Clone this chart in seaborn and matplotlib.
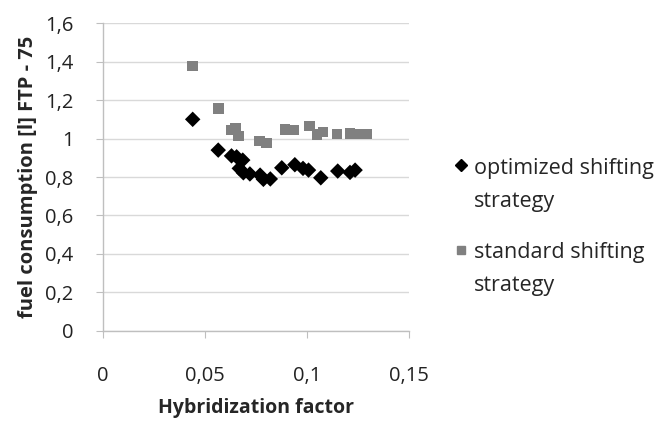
import pandas as pd
import matplotlib
matplotlib.use("Agg")
import matplotlib.pyplot as plt
import seaborn as sns
from matplotlib.ticker import FuncFormatter, MultipleLocator

# values
opt_x = [0.044, 0.0565, 0.063, 0.0655, 0.0685, 0.0668, 0.0688, 0.072, 0.077, 0.0786,
         0.082, 0.0876, 0.094, 0.098, 0.1007, 0.1067, 0.115, 0.121, 0.1235]
opt_y = [1.10, 0.94, 0.91, 0.905, 0.888, 0.845, 0.822, 0.816, 0.81, 0.788,
         0.79, 0.848, 0.864, 0.845, 0.836, 0.796, 0.831, 0.824, 0.836]

std_x = [0.044, 0.0565, 0.063, 0.065, 0.0665, 0.0766, 0.080, 0.0892, 0.0933, 0.1011,
         0.1048, 0.1077, 0.1146, 0.121, 0.125, 0.129]
std_y = [1.378, 1.157, 1.045, 1.055, 1.013, 0.988, 0.978, 1.048, 1.044, 1.065,
         1.02, 1.035, 1.023, 1.027, 1.023, 1.023]

series_names = ["optimized shifting\nstrategy", "standard shifting\nstrategy"]

opt_df = pd.DataFrame({"x": opt_x, "y": opt_y})
std_df = pd.DataFrame({"x": std_x, "y": std_y})

sns.set_style("white")
plt.rcParams["font.family"] = ["Open Sans", "DejaVu Sans"]

fig = plt.figure(figsize=(6.59, 4.21), dpi=100)
ax = fig.add_axes([0.156, 0.214, 0.465, 0.731])

# standard first so the diamonds sit on top where they touch
sns.scatterplot(data=std_df, x="x", y="y", marker="s", color="#808080",
                s=58, edgecolor="none", linewidth=0, ax=ax)
sns.scatterplot(data=opt_df, x="x", y="y", marker="D", color="black",
                s=62, edgecolor="none", linewidth=0, ax=ax)

ax.set_xlim(0, 0.15)
ax.set_ylim(0, 1.6)
ax.xaxis.set_major_locator(MultipleLocator(0.05))
ax.yaxis.set_major_locator(MultipleLocator(0.2))
comma = FuncFormatter(lambda v, p: ("%g" % round(v, 4)).replace(".", ","))
ax.xaxis.set_major_formatter(comma)
ax.yaxis.set_major_formatter(comma)

ax.grid(axis="y", color="#d9d9d9", linewidth=1)
ax.set_axisbelow(True)
for side in ["top", "right"]:
    ax.spines[side].set_visible(False)
for side in ["left", "bottom"]:
    ax.spines[side].set_color("#bfbfbf")
    ax.spines[side].set_linewidth(1)

ax.tick_params(axis="both", which="major", direction="out", length=5, color="#bfbfbf",
               labelsize=14.5, labelcolor="#222222", bottom=True, left=True)
ax.tick_params(axis="x", pad=20)
ax.tick_params(axis="y", pad=16)

ax.set_xlabel("Hybridization factor", fontsize=14, fontweight="bold", labelpad=9)
ax.set_ylabel("fuel consumption [l] FTP - 75", fontsize=14.5, fontweight="bold", labelpad=5)

handles = [
    plt.Line2D([], [], marker="D", color="black", linestyle="none", markersize=6),
    plt.Line2D([], [], marker="s", color="#808080", linestyle="none", markersize=6),
]
leg = fig.legend(handles, series_names, loc="upper left", bbox_to_anchor=(0.688, 0.625),
                 frameon=False, fontsize=15.5, handlelength=0.7, handletextpad=0.25,
                 labelspacing=1.4, borderpad=0, borderaxespad=0)
for t in leg.get_texts():
    t.set_linespacing(1.75)
# put the marker next to the first line of each wrapped label
for col in leg._legend_handle_box.get_children():
    for row in col.get_children():
        row.align = "top"

fig.savefig("out.png", dpi=100)
